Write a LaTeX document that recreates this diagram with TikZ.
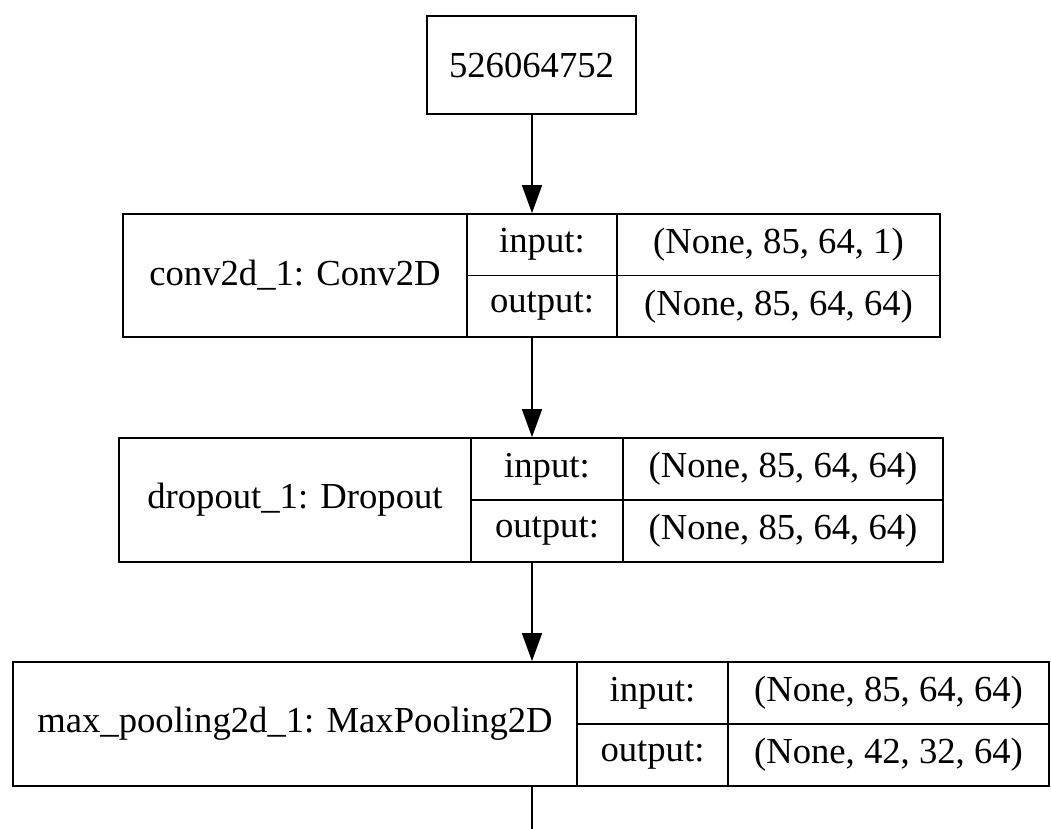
\documentclass[tikz,border=0pt]{standalone}
\usepackage{fontspec}
\setmainfont{Liberation Serif}
\usepackage{tikz}
\usetikzlibrary{arrows.meta}

\begin{document}
\begin{tikzpicture}[x=0.75pt,y=-0.75pt,
    cell/.style={draw,line width=1.3pt,inner sep=0pt,font=\fontsize{27.5}{33}\selectfont},
    row/.style={cell,minimum height=46.5pt},
    conn/.style={line width=1.3pt,-{Triangle[width=15pt,length=21pt]}}]
    \useasboundingbox (0,0) rectangle (1051,829);
    %input id
    \node[cell,minimum width=156.75pt,minimum height=73.5pt] (id) at (531.5,65) {526064752};
    %conv2d_1
    \node[cell,minimum width=258pt,minimum height=92.25pt] (conv) at (295,275.5) {conv2d\_1: Conv2D};
    \node[row,minimum width=112.5pt,minimum height=46.125pt] (conv-in) at (542,244.75) {input:};
    \node[row,minimum width=112.5pt,minimum height=46.125pt] (conv-out) at (542,306.25) {output:};
    \node[row,minimum width=242.25pt,minimum height=46.125pt] (conv-inval) at (778.5,244.75) {(None, 85, 64, 1)};
    \node[row,minimum width=242.25pt,minimum height=46.125pt] (conv-outval) at (778.5,306.25) {(None, 85, 64, 64)};
    %dropout_1
    \node[cell,minimum width=264pt,minimum height=93pt] (drop) at (295,500) {dropout\_1: Dropout};
    \node[row,minimum width=114pt] (drop-in) at (547,469) {input:};
    \node[row,minimum width=114pt] (drop-out) at (547,531) {output:};
    \node[row,minimum width=240pt] (drop-inval) at (783,469) {(None, 85, 64, 64)};
    \node[row,minimum width=240pt] (drop-outval) at (783,531) {(None, 85, 64, 64)};
    %max_pooling2d_1
    \node[cell,minimum width=423pt,minimum height=93pt] (pool) at (295,724) {max\_pooling2d\_1: MaxPooling2D};
    \node[row,minimum width=113.25pt] (pool-in) at (652.5,693) {input:};
    \node[row,minimum width=113.25pt] (pool-out) at (652.5,755) {output:};
    \node[row,minimum width=240.75pt] (pool-inval) at (888.5,693) {(None, 85, 64, 64)};
    \node[row,minimum width=240.75pt] (pool-outval) at (888.5,755) {(None, 42, 32, 64)};
    \coordinate (next) at (532,829);
    %edges
    \draw[conn] (id.south -| next) -- (conv-in.north -| next);
    \draw[conn] (conv-out.south -| next) -- (drop-in.north -| next);
    \draw[conn] (drop-out.south -| next) -- (pool.north -| next);
    \draw[line width=1.3pt] (pool.south -| next) -- (next);
\end{tikzpicture}
\end{document}
